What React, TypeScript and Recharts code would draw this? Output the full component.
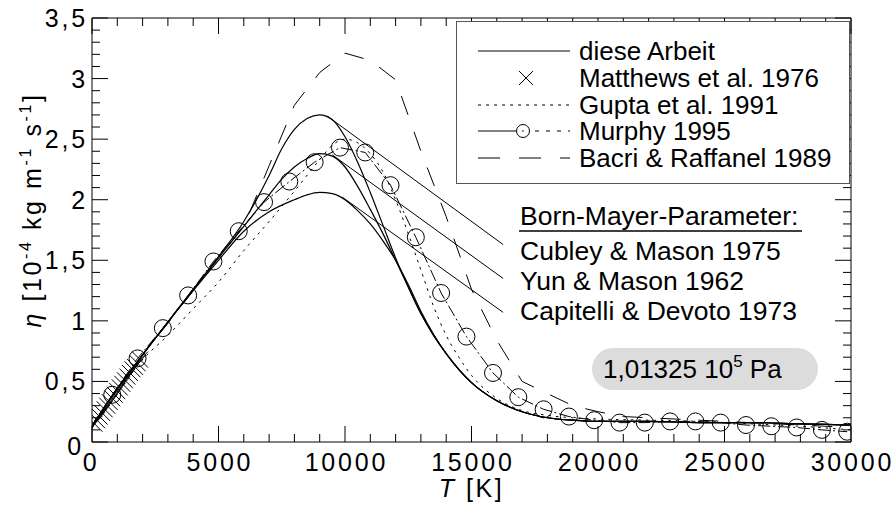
import React from 'react';
import { ComposedChart, Line, XAxis, YAxis, Legend } from 'recharts';

const FONT = '"Liberation Sans", Arial, Helvetica, sans-serif';

// [T in K, eta in 1e-4 kg/(m s)]
const cubley = [
  [0, 0.12], [500, 0.29], [1000, 0.44], [2000, 0.72], [3000, 0.99], [4000, 1.26], [5000, 1.53],
  [6000, 1.82], [7000, 2.2], [7500, 2.42], [8000, 2.58], [8500, 2.67], [9000, 2.7], [9500, 2.66],
  [10000, 2.52], [10500, 2.31], [11000, 2.06], [11500, 1.79], [12000, 1.52], [12500, 1.28],
  [13000, 1.06], [13500, 0.88], [14000, 0.73], [15000, 0.49], [16000, 0.34], [17000, 0.25],
  [18000, 0.2], [19000, 0.18], [20000, 0.17], [22000, 0.17], [24000, 0.16], [26000, 0.16],
  [28000, 0.15], [30000, 0.14],
];
const yun = [
  [0, 0.12], [500, 0.29], [1000, 0.44], [2000, 0.72], [3000, 0.99], [4000, 1.26], [5000, 1.52],
  [6000, 1.78], [7000, 2.04], [7500, 2.17], [8000, 2.27], [8500, 2.34], [9000, 2.38], [9500, 2.36],
  [10000, 2.27], [10500, 2.11], [11000, 1.92], [11500, 1.72], [12000, 1.5], [12500, 1.28],
  [13000, 1.06], [13500, 0.88], [14000, 0.73], [15000, 0.49], [16000, 0.34], [17000, 0.25],
  [18000, 0.2], [19000, 0.18], [20000, 0.17], [22000, 0.17], [24000, 0.16], [26000, 0.16],
  [28000, 0.15], [30000, 0.14],
];
const capitelli = [
  [0, 0.12], [500, 0.29], [1000, 0.44], [2000, 0.72], [3000, 0.99], [4000, 1.25], [5000, 1.5],
  [6000, 1.74], [7000, 1.9], [8000, 2.0], [8500, 2.04], [9000, 2.06], [9500, 2.05], [10000, 2.0],
  [10500, 1.91], [11000, 1.8], [11500, 1.66], [12000, 1.5], [12500, 1.3], [13000, 1.08],
  [13500, 0.89], [14000, 0.73], [15000, 0.49], [16000, 0.34], [17000, 0.25], [18000, 0.2],
  [19000, 0.18], [20000, 0.17], [22000, 0.17], [24000, 0.16], [26000, 0.16], [28000, 0.15],
  [30000, 0.14],
];
// leader lines from the curves to the Born-Mayer labels
const cubleyLeader = [[9300, 2.69], [16250, 1.63]];
const yunLeader = [[9500, 2.37], [16250, 1.35]];
const capitelliLeader = [[9900, 2.02], [16250, 1.07]];

const matthews = [
  [100, 0.15], [200, 0.18], [300, 0.21], [400, 0.24], [500, 0.27], [600, 0.3], [700, 0.33],
  [800, 0.36], [900, 0.39], [1000, 0.42], [1100, 0.45], [1200, 0.48], [1300, 0.51], [1400, 0.54],
  [1500, 0.57], [1600, 0.6], [1700, 0.62], [1800, 0.65], [1900, 0.68],
];
const gupta = [
  [0, 0.12], [1000, 0.4], [2000, 0.68], [3000, 0.88], [4000, 1.1], [5000, 1.32], [6000, 1.58],
  [7000, 1.82], [8000, 2.07], [9000, 2.33], [9500, 2.45], [10000, 2.5], [10500, 2.47],
  [11000, 2.38], [11500, 2.23], [12000, 2.0], [12500, 1.72], [13000, 1.42], [13500, 1.12],
  [14000, 0.88], [14500, 0.7], [15000, 0.55], [16000, 0.36], [17000, 0.26], [18000, 0.22],
  [19000, 0.2], [20000, 0.19], [22000, 0.18], [24000, 0.17], [26000, 0.15], [28000, 0.13],
  [30000, 0.1],
];
const murphy = [
  [800, 0.39], [1800, 0.69], [2800, 0.94], [3800, 1.21], [4800, 1.49], [5800, 1.74], [6800, 1.98],
  [7800, 2.15], [8800, 2.31], [9800, 2.43], [10800, 2.39], [11800, 2.12], [12800, 1.69],
  [13800, 1.23], [14800, 0.87], [15850, 0.57], [16850, 0.37], [17850, 0.27], [18850, 0.21],
  [19850, 0.18], [20850, 0.16], [21850, 0.16], [22850, 0.17], [23850, 0.17], [24850, 0.16],
  [25850, 0.14], [26850, 0.13], [27850, 0.12], [28850, 0.1], [29850, 0.085],
];
const bacri = [
  [0, 0.12], [1000, 0.4], [2000, 0.72], [3000, 0.98], [4000, 1.25], [5000, 1.52], [6000, 1.78],
  [7000, 2.28], [8000, 2.78], [9000, 3.05], [10000, 3.21], [11000, 3.15], [12000, 2.99],
  [13000, 2.4], [14000, 1.86], [15000, 1.26], [16000, 0.84], [17000, 0.5], [18000, 0.4],
  [19000, 0.3], [20000, 0.25], [21000, 0.21], [22000, 0.2], [24000, 0.18], [26000, 0.16],
  [28000, 0.14], [30000, 0.12],
];

const legendLabels = ['diese Arbeit', 'Matthews et al. 1976', 'Gupta et al. 1991', 'Murphy 1995', 'Bacri & Raffanel 1989'];
const bornMayerLabels = ['Cubley & Mason 1975', 'Yun & Mason 1962', 'Capitelli & Devoto 1973'];

const xTicks = Array.from({ length: 31 }, (_, i) => i * 1000);
const yTicks = Array.from({ length: 36 }, (_, i) => i / 10);

const pts = (rows: number[][]) => rows.map(([T, v]) => ({ T, v }));

const fmt = (v: number) => String(Math.round(v * 10) / 10).replace('.', ',');
const isMajorX = (v: number) => v % 5000 === 0;
const isMajorY = (v: number) => Math.round(v * 10) % 5 === 0;

function BottomTick(props: any) {
  const { x, y, payload } = props;
  const v = payload.value;
  const major = isMajorX(v);
  return (
    <g>
      <line x1={x} y1={y} x2={x} y2={y - (major ? 16 : 8)} stroke="#000" />
      {major && (
        <text x={v === 0 ? x - 1 : x + 1.4} y={y + 29} textAnchor="middle" fontSize={25}
          letterSpacing={2.8} fontFamily={FONT} fill="#000">{v}</text>
      )}
    </g>
  );
}

function TopTick(props: any) {
  const { x, y, payload } = props;
  return <line x1={x} y1={y} x2={x} y2={y + (isMajorX(payload.value) ? 16 : 8)} stroke="#000" />;
}

function LeftTick(props: any) {
  const { x, y, payload } = props;
  const v = payload.value;
  const major = isMajorY(v);
  return (
    <g>
      <line x1={x} y1={y} x2={x + (major ? 16 : 8)} y2={y} stroke="#000" />
      {major && (
        <text x={v === 0 ? x - 8 : x - 4} y={v === 0 ? y + 13 : y + 9} textAnchor="end" fontSize={25}
          letterSpacing={2.8} fontFamily={FONT} fill="#000">{fmt(v)}</text>
      )}
    </g>
  );
}

function RightTick(props: any) {
  const { x, y, payload } = props;
  return <line x1={x} y1={y} x2={x - (isMajorY(payload.value) ? 16 : 8)} y2={y} stroke="#000" />;
}

const Cross = (props: any) => {
  const { cx, cy } = props;
  if (cx == null || cy == null) return null;
  const h = 8;
  return <path d={`M${cx - h},${cy - h}L${cx + h},${cy + h}M${cx - h},${cy + h}L${cx + h},${cy - h}`} stroke="#000" strokeWidth={1} fill="none" />;
};

const Ring = (props: any) => {
  const { cx, cy } = props;
  if (cx == null || cy == null) return null;
  return <circle cx={cx} cy={cy} r={8.5} stroke="#000" strokeWidth={1} fill="none" />;
};

function LegendBox() {
  const rowY = [29, 56, 83, 109, 136];
  return (
    <div style={{ width: 394, height: 163, boxSizing: 'border-box', border: '1.5px solid #555', background: '#fff' }}>
      <svg width={391} height={160} style={{ display: 'block' }}>
        <line x1={21} x2={113} y1={rowY[0]} y2={rowY[0]} stroke="#000" />
        <path d={`M62,${rowY[1] - 7}L76,${rowY[1] + 7}M62,${rowY[1] + 7}L76,${rowY[1] - 7}`} stroke="#000" />
        <line x1={21} x2={113} y1={rowY[2]} y2={rowY[2]} stroke="#000" strokeDasharray="3 5" />
        <line x1={21} x2={59} y1={rowY[3]} y2={rowY[3]} stroke="#000" />
        <circle cx={66} cy={rowY[3]} r={6.5} stroke="#000" fill="none" />
        <circle cx={66} cy={rowY[3]} r={0.8} fill="#000" />
        <line x1={75} x2={113} y1={rowY[3]} y2={rowY[3]} stroke="#000" strokeDasharray="4 7" strokeDashoffset={-3} />
        <line x1={21} x2={113} y1={rowY[4]} y2={rowY[4]} stroke="#000" strokeDasharray="22 19" />
        {legendLabels.map((t, i) => (
          <text key={t} x={122} y={rowY[i] + 9} fontSize={26} fontFamily={FONT} fill="#000">{t}</text>
        ))}
      </svg>
    </div>
  );
}

const XTitle = (props: any) => {
  const { viewBox } = props;
  const cx = viewBox.x + viewBox.width / 2;
  return (
    <text x={cx} y={497} textAnchor="middle" fontSize={25} fontFamily={FONT} fill="#000" letterSpacing={2.5}>
      <tspan fontStyle="italic">T</tspan> [K]
    </text>
  );
};

const YTitle = (props: any) => {
  const { viewBox } = props;
  const cy = viewBox.y + viewBox.height / 2 - 20;
  return (
    <text x={41} y={cy} transform={`rotate(-90 41 ${cy})`} textAnchor="middle" fontSize={25}
      fontFamily={FONT} fill="#000" letterSpacing={2.6}>
      <tspan fontStyle="italic">η</tspan>
      <tspan>  [10</tspan>
      <tspan fontSize={16} dy={-10}>-4</tspan>
      <tspan dy={10}> kg m</tspan>
      <tspan fontSize={16} dy={-10}>-1</tspan>
      <tspan dy={10}> s</tspan>
      <tspan fontSize={16} dy={-10}>-1</tspan>
      <tspan dy={10}>]</tspan>
    </text>
  );
};

export default function App() {
  return (
    <div style={{ position: 'absolute', left: 0, top: 0, width: 893, height: 506, background: '#fff', fontFamily: FONT }}>
      <ComposedChart width={893} height={506} margin={{ top: 17, right: 41, bottom: 63, left: 91 }}>
        <XAxis xAxisId={0} dataKey="T" type="number" domain={[0, 30000]} ticks={xTicks} interval={0}
          allowDataOverflow height={1} tickSize={0} tickMargin={0} tickLine={false} tick={<BottomTick />}
          axisLine={{ stroke: '#000' }} label={<XTitle />} />
        <XAxis xAxisId="top" orientation="top" dataKey="T" type="number" domain={[0, 30000]} ticks={xTicks}
          interval={0} allowDataOverflow height={1} tickSize={0} tickMargin={0} tickLine={false}
          tick={<TopTick />} axisLine={{ stroke: '#000' }} />
        <YAxis yAxisId={0} type="number" domain={[0, 3.5]} ticks={yTicks} interval={0} allowDataOverflow
          width={1} tickSize={0} tickMargin={0} tickLine={false} tick={<LeftTick />}
          axisLine={{ stroke: '#000' }} label={<YTitle />} />
        <YAxis yAxisId="right" orientation="right" type="number" domain={[0, 3.5]} ticks={yTicks}
          interval={0} allowDataOverflow width={1} tickSize={0} tickMargin={0} tickLine={false}
          tick={<RightTick />} axisLine={{ stroke: '#000' }} />

        <Line data={pts(bacri)} dataKey="v" type="linear" stroke="#000" strokeWidth={1}
          strokeDasharray="20 18" dot={false} isAnimationActive={false} />
        <Line data={pts(gupta)} dataKey="v" type="monotone" stroke="#000" strokeWidth={1}
          strokeDasharray="2.5 5" dot={false} isAnimationActive={false} />
        <Line data={pts(murphy)} dataKey="v" type="linear" stroke="#000" strokeWidth={1}
          strokeDasharray="12 3 2 3" dot={<Ring />} isAnimationActive={false} />
        <Line data={pts(cubley)} dataKey="v" type="monotone" stroke="#000" strokeWidth={1.2}
          dot={false} isAnimationActive={false} />
        <Line data={pts(yun)} dataKey="v" type="monotone" stroke="#000" strokeWidth={1.2}
          dot={false} isAnimationActive={false} />
        <Line data={pts(capitelli)} dataKey="v" type="monotone" stroke="#000" strokeWidth={1.2}
          dot={false} isAnimationActive={false} />
        <Line data={pts(cubleyLeader)} dataKey="v" type="linear" stroke="#000" strokeWidth={1}
          dot={false} isAnimationActive={false} />
        <Line data={pts(yunLeader)} dataKey="v" type="linear" stroke="#000" strokeWidth={1}
          dot={false} isAnimationActive={false} />
        <Line data={pts(capitelliLeader)} dataKey="v" type="linear" stroke="#000" strokeWidth={1}
          dot={false} isAnimationActive={false} />
        <Line data={pts(matthews)} dataKey="v" type="linear" stroke="none" dot={<Cross />}
          isAnimationActive={false} />

        <Legend layout="vertical" align="center" verticalAlign="middle" content={() => <LegendBox />}
          wrapperStyle={{ left: 456, top: 21, width: 394, height: 163 }} />
      </ComposedChart>

      <svg width={893} height={506} style={{ position: 'absolute', left: 0, top: 0, pointerEvents: 'none' }}>
        <text x={520} y={225} fontSize={26.5} fontFamily={FONT} fill="#000">Born-Mayer-Parameter:</text>
        <line x1={519} x2={802} y1={231} y2={231} stroke="#000" strokeWidth={1.5} />
        {bornMayerLabels.map((t, i) => (
          <text key={t} x={520} y={[260, 290, 320][i]} fontSize={26.5} fontFamily={FONT} fill="#000">{t}</text>
        ))}
        <rect x={592} y={348} width={226} height={42} rx={21} fill="#dcdcdc" />
        <text x={603} y={378} fontSize={26} fontFamily={FONT} fill="#000">
          1,01325 10<tspan fontSize={17} dy={-11}>5</tspan><tspan dy={11}> Pa</tspan>
        </text>
      </svg>
    </div>
  );
}
